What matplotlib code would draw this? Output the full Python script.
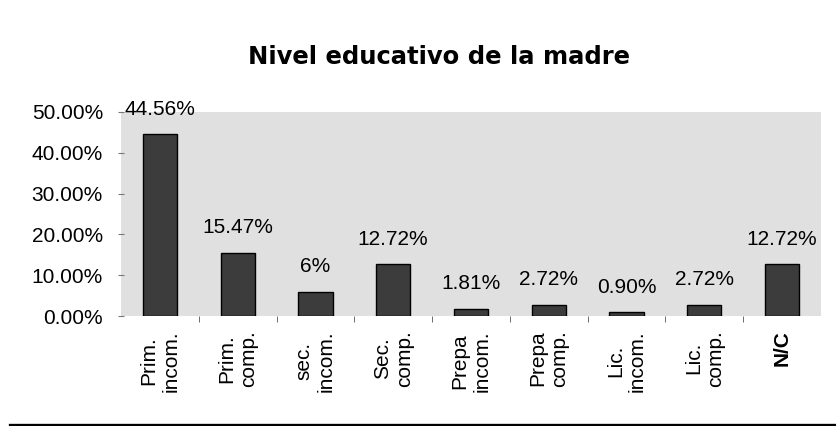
import numpy as np
import matplotlib
matplotlib.use('Agg')
import matplotlib.pyplot as plt
from matplotlib.lines import Line2D

categories = ['Prim.\nincom.', 'Prim.\ncomp.', 'sec.\nincom.', 'Sec.\ncomp.', 'Prepa\nincom.',
              'Prepa\ncomp.', 'Lic.\nincom.', 'Lic.\ncomp.', 'N/C']
values = [44.56, 15.47, 6.0, 12.72, 1.81, 2.72, 0.90, 2.72, 12.72]
value_labels = ['44.56%', '15.47%', '6%', '12.72%', '1.81%', '2.72%', '0.90%', '2.72%', '12.72%']
yticks = [0, 10, 20, 30, 40, 50]

plt.rcParams['font.family'] = ['Liberation Sans', 'DejaVu Sans']

fig = plt.figure(figsize=(8.36, 4.26), dpi=100)
ax = fig.add_axes([0.1447, 0.2582, 0.8373, 0.4789])
ax.set_facecolor('#e0e0e0')

x = np.arange(len(categories))
ax.bar(x, values, width=0.44, color='#3c3c3c', edgecolor='black', linewidth=1, zorder=3)

for xi, v, lab in zip(x, values, value_labels):
    ax.annotate(lab, (xi, v), xytext=(0, 18), textcoords='offset points',
                ha='center', va='center', fontsize=15, color='black', annotation_clip=False)

ax.set_xlim(-0.5, len(categories) - 0.5)
ax.set_ylim(0, 50)
ax.set_yticks(yticks)
ax.set_yticklabels([f'{t:.2f}%' for t in yticks], fontsize=15)
ax.set_xticks(x)
ax.set_xticklabels(categories, rotation=90, fontsize=15, va='top', ha='center', multialignment='center')
ax.get_xticklabels()[-1].set_fontweight('bold')
ax.set_xticks(np.arange(len(categories) - 1) + 0.5, minor=True)
ax.tick_params(axis='x', which='major', length=0, pad=10)
ax.tick_params(axis='x', which='minor', length=4, color='#555555', direction='out')
ax.tick_params(axis='y', length=4, color='#777777', direction='inout', pad=11)

for s in ax.spines.values():
    s.set_visible(False)

fig.text(0.525, 1 - 57 / 426, 'Nivel educativo de la madre', ha='center', va='center',
         fontsize=17.5, fontweight='bold', family='DejaVu Sans')

fig.add_artist(Line2D([0.012, 1.0], [1 - 424.5 / 426] * 2, color='black', linewidth=2.4,
                      transform=fig.transFigure))

fig.savefig('out.png', dpi=100)
